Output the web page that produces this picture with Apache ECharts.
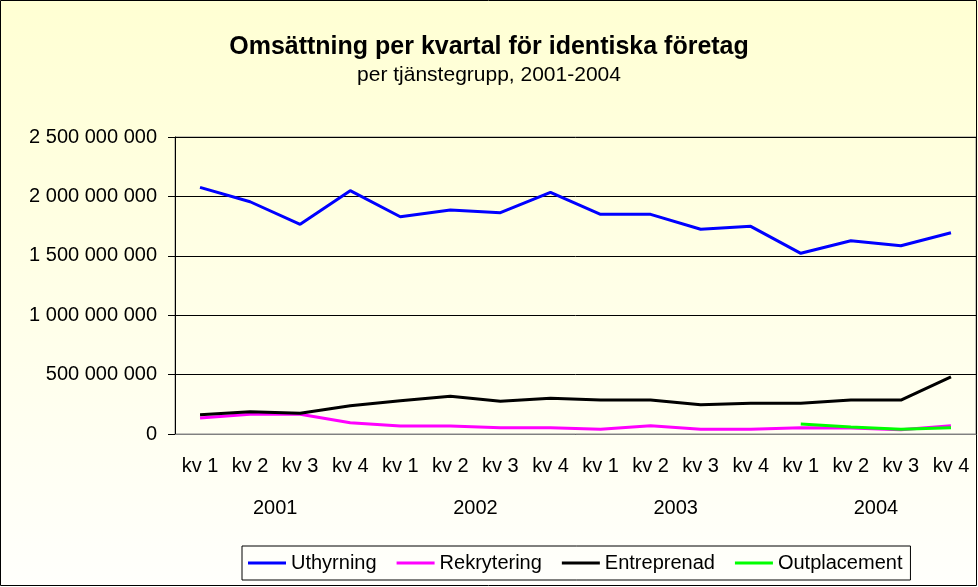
<!DOCTYPE html>
<html>
<head>
<meta charset="utf-8">
<script src="https://cdn.jsdelivr.net/npm/echarts@6/dist/echarts.min.js"></script>
<style>
html,body{margin:0;padding:0;}
#c{width:978px;height:587px;}
</style>
</head>
<body>
<div id="c"></div>
<script>
var quarters = ['kv 1','kv 2','kv 3','kv 4','kv 1','kv 2','kv 3','kv 4','kv 1','kv 2','kv 3','kv 4','kv 1','kv 2','kv 3','kv 4'];
var years = ['2001','2002','2003','2004'];
var uthyrning = [2076e6,1955e6,1765e6,2048e6,1829e6,1886e6,1863e6,2034e6,1849e6,1849e6,1723e6,1748e6,1521e6,1627e6,1585e6,1694e6];
var rekrytering = [135e6,166e6,166e6,95e6,67e6,67e6,53e6,53e6,39e6,70e6,39e6,39e6,53e6,50e6,36e6,70e6];
var entreprenad = [162e6,188e6,174e6,238e6,280e6,317e6,275e6,300e6,286e6,286e6,247e6,258e6,258e6,286e6,286e6,480e6];
var outplacement = [null,null,null,null,null,null,null,null,null,null,null,null,84e6,59e6,40e6,53e6];

var font = 'Liberation Sans, Arial, sans-serif';
function fmt(v){
  return String(Math.round(v)).replace(/\B(?=(\d{3})+(?!\d))/g,' ');
}
var chart = echarts.init(document.getElementById('c'));
function ln(name, data, color){
  return {name:name,type:'line',data:data,symbol:'none',showSymbol:false,
    lineStyle:{color:color,width:3},itemStyle:{color:color},
    emphasis:{disabled:true},animation:false};
}
chart.setOption({
  backgroundColor:{type:'linear',x:0,y:0,x2:0,y2:1,colorStops:[{offset:0,color:'#FFFFD3'},{offset:1,color:'#FFFFFC'}]},
  animation:false,
  graphic:[{type:'rect',shape:{x:0.5,y:0.5,width:976,height:585},style:{fill:'none',stroke:'#000',lineWidth:1},silent:true}],
  title:{
    text:'Omsättning per kvartal för identiska företag',
    subtext:'per tjänstegrupp, 2001-2004',
    left:'center',top:30,itemGap:5,
    textStyle:{fontFamily:font,fontSize:25,fontWeight:'bold',color:'#000'},
    subtextStyle:{fontFamily:font,fontSize:21,color:'#000'}
  },
  legend:{
    left:242,top:546,width:730,
    borderColor:'#000',borderWidth:1,padding:[7,8,7,6],
    backgroundColor:'rgba(255,255,255,0)',
    itemWidth:38,itemHeight:3,itemGap:20,icon:'rect',
    textStyle:{fontFamily:font,fontSize:20,color:'#000',padding:[0,0,0,0]},
    data:['Uthyrning','Rekrytering','Entreprenad','Outplacement']
  },
  grid:{left:175,right:2,top:137,bottom:153,show:true,borderColor:'#888',borderWidth:1,backgroundColor:'transparent'},
  xAxis:[{
    type:'category',data:quarters,boundaryGap:true,position:'bottom',
    axisLine:{lineStyle:{color:'#808080',width:1}},
    axisTick:{show:false},
    axisLabel:{fontFamily:font,fontSize:20,color:'#000',margin:22,interval:0}
  },{
    type:'category',data:years,boundaryGap:true,position:'bottom',offset:0,
    axisLine:{show:false},axisTick:{show:false},
    axisLabel:{fontFamily:font,fontSize:20,color:'#000',margin:64,interval:0}
  }],
  yAxis:{
    type:'value',min:0,max:2500000000,interval:500000000,
    axisLine:{show:true,lineStyle:{color:'#000',width:1}},
    axisTick:{show:true,length:7,lineStyle:{color:'#000'}},
    axisLabel:{fontFamily:font,fontSize:20,color:'#000',margin:18,formatter:fmt},
    splitLine:{lineStyle:{color:'#000',width:1}}
  },
  series:[
    ln('Uthyrning',uthyrning,'#0000FF'),
    ln('Rekrytering',rekrytering,'#FF00FF'),
    ln('Entreprenad',entreprenad,'#000000'),
    ln('Outplacement',outplacement,'#00FF00')
  ]
});
</script>
</body>
</html>
